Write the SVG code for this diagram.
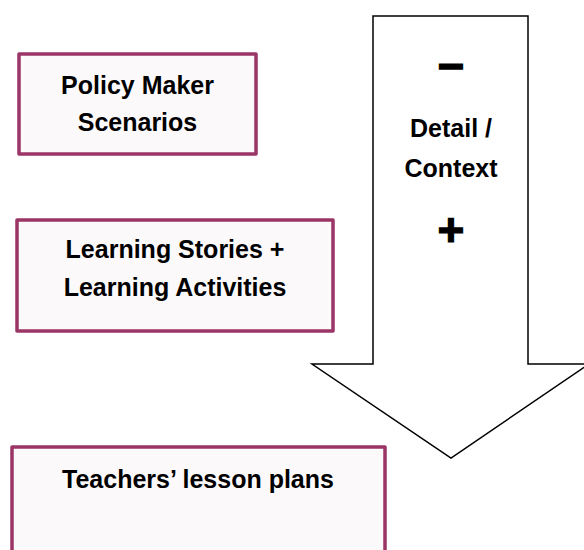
<svg xmlns="http://www.w3.org/2000/svg" width="584" height="550" viewBox="0 0 584 550">
<style>
.box{fill:#fcf9fb;stroke:#9b3566;stroke-width:3.5;stroke-linejoin:round}
.t{font-family:"Liberation Sans",Arial,sans-serif;font-weight:bold;font-size:25px;fill:#000;text-anchor:middle}
.sym{font-family:"Liberation Sans",Arial,sans-serif;font-weight:bold;font-size:46px;fill:#000;stroke:#000;stroke-width:1.2;text-anchor:middle}
</style>
<rect width="584" height="550" fill="#fff"/>
<g id="arrow">
<path d="M373,16 L528,16 L528,364 L589,364 L451,458 L312,364 L373,364 Z" fill="#fff" stroke="#000" stroke-width="1.5"/>
<text class="sym" x="451" y="82">−</text>
<text class="t" x="451" y="137">Detail /</text>
<text class="t" x="451" y="177">Context</text>
<text class="sym" x="451" y="246">+</text>
</g>
<g id="policy">
<rect class="box" x="19" y="54" width="237" height="100"/>
<text class="t" x="137.5" y="94">Policy Maker</text>
<text class="t" x="137.5" y="131">Scenarios</text>
</g>
<g id="learning">
<rect class="box" x="17" y="220" width="316" height="111"/>
<text class="t" x="175" y="258">Learning Stories +</text>
<text class="t" x="175" y="296">Learning Activities</text>
</g>
<g id="teachers">
<rect class="box" x="12" y="447" width="373" height="110"/>
<text class="t" x="198" y="488">Teachers’ lesson plans</text>
</g>
<g id="connectors"></g>
</svg>
